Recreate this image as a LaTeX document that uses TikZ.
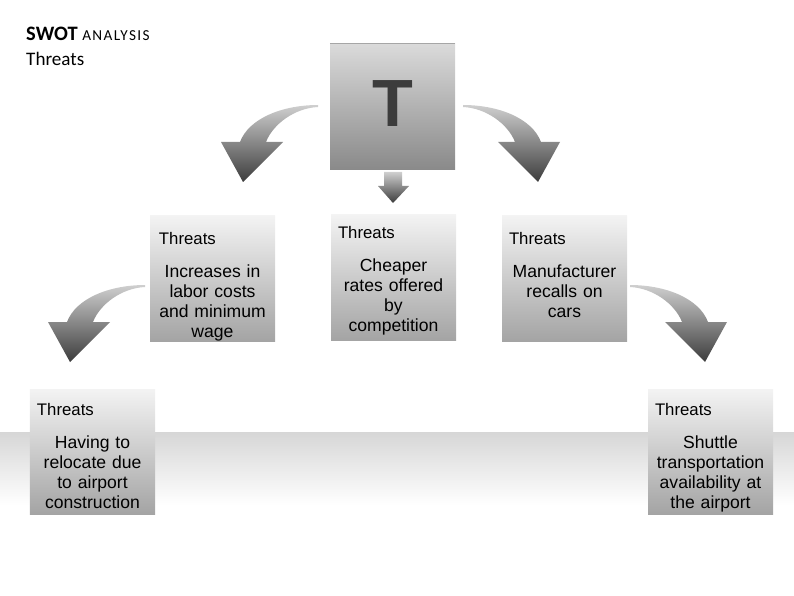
\documentclass[tikz,border=0pt]{standalone}
\usepackage{fontspec}
\usepackage{tikz}
\usetikzlibrary{positioning,calc}
\setmainfont{Liberation Sans}
\newfontfamily\titlefont{Carlito}
\definecolor{tboxtop}{HTML}{DADADA}
\definecolor{tboxbot}{HTML}{8A8A8A}
\definecolor{boxtop}{HTML}{F3F3F3}
\definecolor{boxbot}{HTML}{A4A4A4}
\definecolor{arrowtop}{HTML}{CFCFCF}
\definecolor{arrowbot}{HTML}{3C3C3C}
\definecolor{tletter}{HTML}{3C3C3C}

% bent block arrow, tip at (#1,#2), #3 = 1 (left) or -1 (right)
\newcommand{\bentarrow}[3]{%
  \shade[top color=arrowtop, bottom color=arrowbot, shift={(#1,#2)}, xscale=#3]
    (75,-77) .. controls (40,-77) and (6,-64) .. (-3,-40) -- (-22,-40) -- (0,0)
    -- (40,-40) -- (23,-40) .. controls (30,-58) and (52,-74) .. (75,-75) -- cycle;}

\begin{document}
\begin{tikzpicture}[x=0.03cm, y=-0.03cm,
  tbox/.style={rectangle, minimum width=3.75cm, minimum height=3.75cm, inner sep=0pt,
    top color=tboxtop, bottom color=tboxbot},
  box/.style={rectangle, minimum width=3.75cm, minimum height=3.75cm, inner sep=0pt,
    top color=boxtop, bottom color=boxbot},
  lbl/.style={anchor=base west, inner sep=0pt, font=\fontsize{14.3pt}{17pt}\selectfont},
  body/.style={anchor=north, inner sep=0pt, align=center, text width=3.6cm,
    font=\fontsize{15pt}{17pt}\selectfont}
]
\useasboundingbox (0,0) rectangle (794,595);

% floor band
\shade[top color=black!16, bottom color=white] (0,432) rectangle (794,505);

% title
\node[anchor=base west, inner sep=0pt] (title) at (26,41)
  {\titlefont\fontsize{17.5pt}{20pt}\selectfont\textbf{SWOT}
   {\fontsize{13pt}{15pt}\selectfont\addfontfeature{LetterSpace=9}ANALYSIS}};
\node[anchor=base west, inner sep=0pt] (subtitle) at (26,66)
  {\titlefont\fontsize{16.3pt}{19pt}\selectfont Threats};

% T box
\node[tbox] (t) at (392.5,106.5) {};
\draw[black!35, line width=0.6pt] (t.north west) -- (t.north east);
\node[font=\bfseries\fontsize{57pt}{57pt}\selectfont, text=tletter] (tl) at (t.center) [yshift=0.08cm] {T};

% boxes
\node[box] (b1) at (212.5,278.5) {};
\node[box] (b2) at (393.5,277.5) {};
\node[box] (b3) at (564.5,278.5) {};
\node[box] (b4) at (92.5,451.5) {};
\node[box] (b5) at (710.5,451.5) {};

\node[lbl] (l1) at ([shift={(9,29)}]b1.north west) {Threats};
\node[lbl] (l2) at ([shift={(7,24)}]b2.north west) {Threats};
\node[lbl] (l3) at ([shift={(7,29)}]b3.north west) {Threats};
\node[lbl] (l4) at ([shift={(7,27)}]b4.north west) {Threats};
\node[lbl] (l5) at ([shift={(7,27)}]b5.north west) {Threats};

\node[body] (t1) at ([yshift=-0.03cm*49]b1.north) {Increases in\\labor costs\\and minimum\\wage};
\node[body] (t2) at ([yshift=-0.03cm*44]b2.north) {Cheaper\\rates offered\\by\\competition};
\node[body] (t3) at ([yshift=-0.03cm*49]b3.north) {Manufacturer\\recalls on\\cars};
\node[body] (t4) at ([yshift=-0.03cm*47]b4.north) {Having to\\relocate due\\to airport\\construction};
\node[body] (t5) at ([yshift=-0.03cm*47]b5.north) {Shuttle\\transportation\\availability at\\the airport};

% arrows
\bentarrow{243}{182}{1}
\bentarrow{538}{182}{-1}
\bentarrow{70}{362}{1}
\bentarrow{705}{362}{-1}
\shade[top color=arrowtop, bottom color=arrowbot]
  (384,172) -- (402,172) -- (402,186) -- (409,186) -- (393,203) -- (378,186) -- (384,186) -- cycle;
\end{tikzpicture}
\end{document}
